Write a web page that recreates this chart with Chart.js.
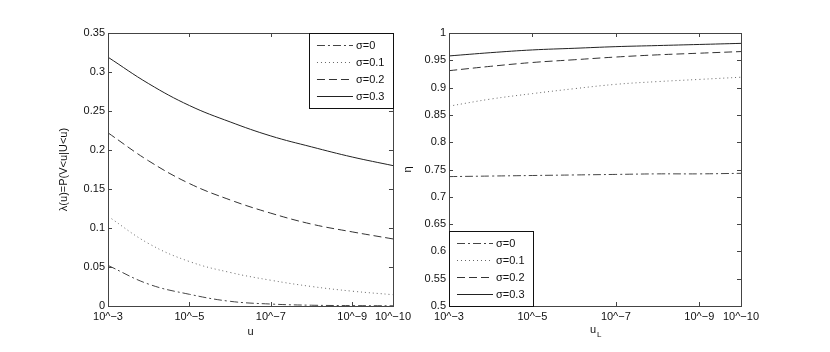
<!DOCTYPE html>
<html>
<head>
<meta charset="utf-8">
<script src="https://cdn.jsdelivr.net/npm/chart.js@4/dist/chart.umd.min.js"></script>
<style>
  html, body { margin: 0; padding: 0; background: #fff; }
  body { width: 830px; height: 352px; position: relative; overflow: hidden; }
  .box { position: absolute; top: 0; height: 352px; }
  #leftBox { left: 0; width: 415px; }
  #rightBox { left: 400px; width: 430px; }
</style>
</head>
<body>
<div class="box" id="leftBox"><canvas id="lambdaChart"></canvas></div>
<div class="box" id="rightBox"><canvas id="etaChart"></canvas></div>
<script>
// x positions are the exponents of u (10^-3 ... 10^-10)
const uExp = [3, 4, 5, 6, 7, 8, 9, 10];
const xTickExp = [3, 5, 7, 9, 10];
const sigmaLabels = ['σ=0', 'σ=0.1', 'σ=0.2', 'σ=0.3'];

// left panel: lambda(u)
const lambdaS0 = [0.052, 0.028, 0.015, 0.006, 0.0025, 0.001, 0.0005, 0.0003];
const lambdaS1 = [0.115, 0.080, 0.057, 0.043, 0.033, 0.025, 0.019, 0.0145];
const lambdaS2 = [0.222, 0.186, 0.157, 0.136, 0.119, 0.105, 0.095, 0.086];
const lambdaS3 = [0.319, 0.285, 0.257, 0.236, 0.218, 0.204, 0.191, 0.180];

// right panel: eta
const etaS0 = [0.737, 0.738, 0.739, 0.740, 0.741, 0.742, 0.742, 0.743];
const etaS1 = [0.866, 0.879, 0.889, 0.898, 0.906, 0.911, 0.915, 0.919];
const etaS2 = [0.931, 0.939, 0.946, 0.951, 0.956, 0.960, 0.963, 0.966];
const etaS3 = [0.958, 0.964, 0.969, 0.972, 0.975, 0.977, 0.979, 0.981];

const FONT = "'Liberation Sans', Arial, Helvetica, sans-serif";
const TXT = '#111';

const lineStyles = [
    { color: '#444', dash: [8, 3, 2, 3], width: 1 },
    { color: '#666', dash: [1, 3], width: 1 },
    { color: '#333', dash: [8, 4], width: 1 },
    { color: '#222', dash: [], width: 1 }
];

function makeDatasets(seriesList) {
    return seriesList.map((vals, i) => ({
        label: sigmaLabels[i],
        data: vals.map((v, k) => ({ x: uExp[k], y: v })),
        borderColor: lineStyles[i].color,
        borderDash: lineStyles[i].dash,
        borderWidth: lineStyles[i].width,
        pointRadius: 0,
        fill: false,
        tension: 0.4
    }));
}

// frame with inward ticks on all four sides (matlab style)
const framePlugin = {
    id: 'frame',
    afterDatasetsDraw(chart) {
        const { ctx, chartArea: a, scales } = chart;
        const tl = 4;
        ctx.save();
        ctx.strokeStyle = '#444';
        ctx.lineWidth = 1;
        ctx.setLineDash([]);
        ctx.beginPath();
        scales.x.ticks.forEach(t => {
            const px = Math.round(scales.x.getPixelForValue(t.value)) + 0.5;
            ctx.moveTo(px, a.bottom); ctx.lineTo(px, a.bottom - tl);
            ctx.moveTo(px, a.top); ctx.lineTo(px, a.top + tl);
        });
        scales.y.ticks.forEach(t => {
            const py = Math.round(scales.y.getPixelForValue(t.value)) + 0.5;
            ctx.moveTo(a.left, py); ctx.lineTo(a.left + tl, py);
            ctx.moveTo(a.right, py); ctx.lineTo(a.right - tl, py);
        });
        ctx.stroke();
        ctx.strokeRect(Math.round(a.left) + 0.5, Math.round(a.top) + 0.5,
            Math.round(a.right - a.left), Math.round(a.bottom - a.top));
        ctx.restore();
    }
};

// legend box drawn inside the plot area
const boxLegendPlugin = {
    id: 'boxLegend',
    afterDraw(chart, args, opts) {
        const { ctx, chartArea: a } = chart;
        const w = 84, h = 75;
        const left = opts.corner === 'tr' ? a.right - w : a.left;
        const top = opts.corner === 'tr' ? a.top : a.bottom - h;
        ctx.save();
        ctx.fillStyle = '#fff';
        ctx.fillRect(left, top, w, h);
        ctx.strokeStyle = '#111';
        ctx.lineWidth = 1;
        ctx.strokeRect(Math.round(left) + 0.5, Math.round(top) + 0.5, w, h);
        ctx.font = '11px ' + FONT;
        ctx.textBaseline = 'middle';
        chart.data.datasets.forEach((ds, i) => {
            const y = Math.round(top + 12 + i * 17) + 0.5;
            ctx.strokeStyle = ds.borderColor;
            ctx.setLineDash(ds.borderDash);
            ctx.beginPath();
            ctx.moveTo(left + 8, y);
            ctx.lineTo(left + 44, y);
            ctx.stroke();
            ctx.setLineDash([]);
            ctx.fillStyle = TXT;
            ctx.fillText(ds.label, left + 47, y);
        });
        ctx.restore();
    }
};

// subscript title "u_L" for the right panel
const subTitlePlugin = {
    id: 'subTitle',
    afterDraw(chart, args, opts) {
        if (!opts.text) return;
        const { ctx, chartArea: a } = chart;
        const cx = (a.left + a.right) / 2;
        ctx.save();
        ctx.fillStyle = TXT;
        ctx.textBaseline = 'alphabetic';
        ctx.font = '11px ' + FONT;
        const w = ctx.measureText(opts.text).width;
        ctx.fillText(opts.text, cx - w / 2 - 2, 333);
        ctx.font = '8px ' + FONT;
        ctx.fillText(opts.sub, cx + w / 2 - 1, 337);
        ctx.restore();
    }
};

function makeOptions(yMin, yMax, yTitle, yTitlePad, xTitle, yAxisWidth, pad, corner, sub) {
    return {
        responsive: false,
        animation: false,
        layout: { padding: pad },
        plugins: {
            legend: { display: false },
            tooltip: { enabled: false },
            boxLegend: { corner: corner },
            subTitle: sub
        },
        scales: {
            x: {
                type: 'linear',
                min: 3,
                max: 10,
                afterBuildTicks: s => { s.ticks = xTickExp.map(v => ({ value: v })); },
                afterFit: s => { s.height = 46; },
                grid: { display: false, drawTicks: false },
                border: { display: false },
                ticks: {
                    autoSkip: false,
                    maxRotation: 0,
                    padding: 4,
                    color: TXT,
                    font: { family: FONT, size: 11 },
                    callback: v => '10^−' + v
                },
                title: {
                    display: xTitle !== '',
                    text: xTitle,
                    color: TXT,
                    font: { family: FONT, size: 11 },
                    padding: { top: 0, bottom: 13 }
                }
            },
            y: {
                min: yMin,
                max: yMax,
                afterFit: s => { s.width = yAxisWidth; },
                grid: { display: false, drawTicks: false },
                border: { display: false },
                ticks: {
                    stepSize: 0.05,
                    padding: 3,
                    color: TXT,
                    font: { family: FONT, size: 11 },
                    callback: v => String(+v.toFixed(2))
                },
                title: {
                    display: true,
                    text: yTitle,
                    color: TXT,
                    font: { family: FONT, size: 11 },
                    padding: { top: yTitlePad, bottom: 0 }
                }
            }
        }
    };
}

const lambdaCanvas = document.getElementById('lambdaChart');
lambdaCanvas.width = 415; lambdaCanvas.height = 352;
const lambdaChart = new Chart(lambdaCanvas.getContext('2d'), {
    type: 'line',
    data: { datasets: makeDatasets([lambdaS0, lambdaS1, lambdaS2, lambdaS3]) },
    options: makeOptions(0, 0.35, 'λ(u)=P(V<u|U<u)', -2.5, 'u', 48,
        { left: 60, top: 33, right: 19, bottom: 0 }, 'tr', {}),
    plugins: [framePlugin, boxLegendPlugin, subTitlePlugin]
});

const etaCanvas = document.getElementById('etaChart');
etaCanvas.width = 430; etaCanvas.height = 352;
const etaChart = new Chart(etaCanvas.getContext('2d'), {
    type: 'line',
    data: { datasets: makeDatasets([etaS0, etaS1, etaS2, etaS3]) },
    options: makeOptions(0.5, 1, 'η', 1.5, '', 49,
        { left: 0, top: 33, right: 89, bottom: 0 }, 'bl', { text: 'u', sub: 'L' }),
    plugins: [framePlugin, boxLegendPlugin, subTitlePlugin]
});
</script>
</body>
</html>
